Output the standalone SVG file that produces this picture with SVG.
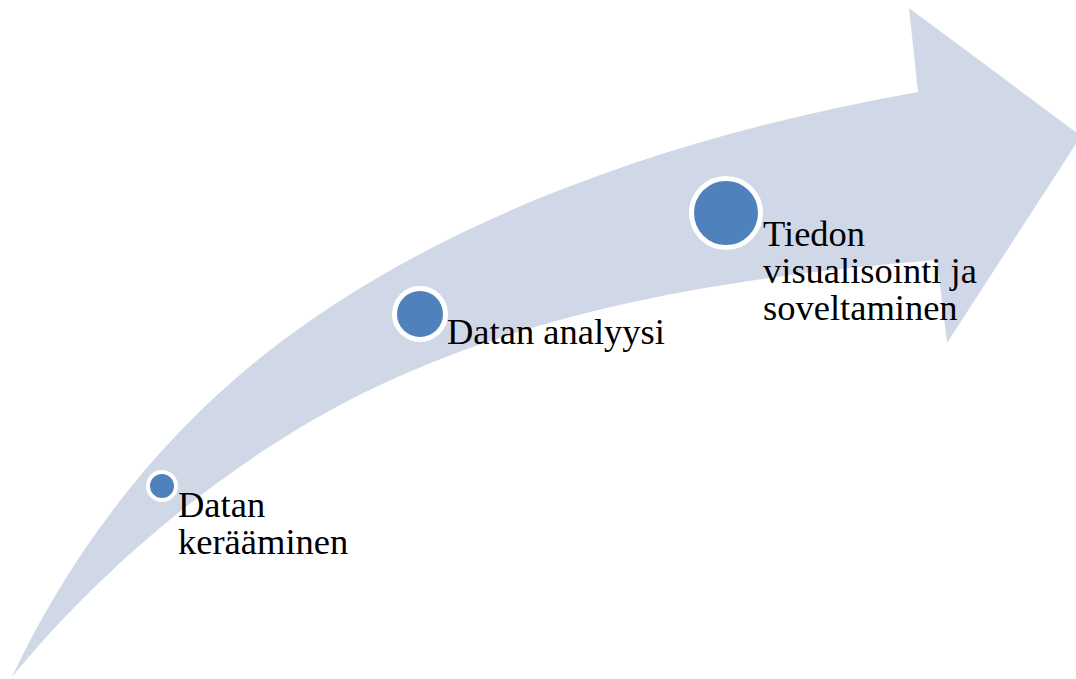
<svg xmlns="http://www.w3.org/2000/svg" width="1076" height="679" viewBox="0 0 1076 679">
<style>
.band{fill:#D0D8E8;stroke:none}
.dot{fill:#4F81BD;stroke:#FFFFFF}
.lbl{font-family:"Liberation Serif","Times New Roman",serif;font-size:36.5px;fill:#000000}
</style>
<rect width="1076" height="679" fill="#FFFFFF"/>
<g id="arrow">
<path class="band" d="M12,677 C72,549 167,423 297,330 C475,202 703,130 918,92 L909,8 L1081,136 L947,343 L937,260 C722,277 498,313 313,420 C201,485 94,577 12,677 Z"/>
</g>
<g id="connectors"></g>
<g id="node1">
<circle class="dot" cx="162" cy="486" r="14" stroke-width="4"/>
<text class="lbl" x="178" y="517">Datan</text>
<text class="lbl" x="178" y="554">kerääminen</text>
</g>
<g id="node2">
<circle class="dot" cx="420" cy="314" r="25.5" stroke-width="5"/>
<text class="lbl" x="447" y="344">Datan analyysi</text>
</g>
<g id="node3">
<circle class="dot" cx="726" cy="213" r="34.5" stroke-width="5"/>
<text class="lbl" x="763" y="246">Tiedon</text>
<text class="lbl" x="763" y="283">visualisointi ja</text>
<text class="lbl" x="763" y="320">soveltaminen</text>
</g>
</svg>
